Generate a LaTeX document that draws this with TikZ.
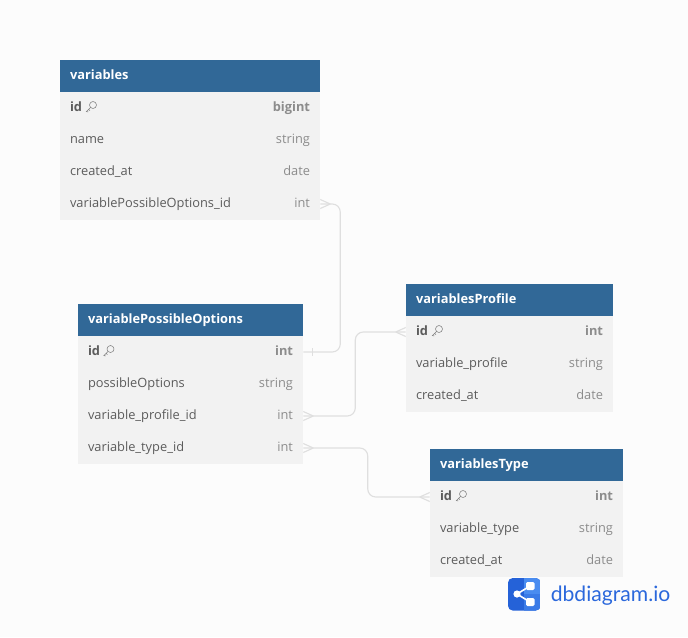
\documentclass[tikz,border=0pt]{standalone}
\usepackage{fontspec}
\setmainfont{Open Sans}
\newfontfamily\logofont{Lato}
\definecolor{pagegray}{HTML}{FCFCFC}
\definecolor{headblue}{HTML}{316897}
\definecolor{rowgray}{HTML}{F2F2F2}
\definecolor{fieldgray}{HTML}{5C5C5C}
\definecolor{typegray}{HTML}{8C8C8C}
\definecolor{linegray}{HTML}{DFDFDF}
\definecolor{logodark}{HTML}{2562D8}
\definecolor{logolight}{HTML}{4A8CF0}
\newcommand{\dtype}[1]{\hfill\textcolor{typegray}{#1}}
\tikzset{
 tablehead/.style={fill=headblue,text=white,inner xsep=7.5pt,inner ysep=0pt,minimum height=24pt,text width=#1,
  text height=8pt,text depth=2.4pt,font=\fontsize{9.62}{12}\selectfont\bfseries},
 tablerow/.style={fill=rowgray,text=fieldgray,inner xsep=7.5pt,inner ysep=0pt,minimum height=24pt,text width=#1,
  text height=8pt,text depth=2.4pt,font=\fontsize{9.62}{12}\selectfont},
 relline/.style={draw=linegray,line width=0.85pt},
 crowfoot/.pic={\draw[relline] (10,0) -- (0,-4.5) (10,0) -- (0,4.5);},
 keyicon/.pic={\draw[fieldgray!80,line width=0.4pt] (2,-2) circle (3.5)
  (-0.4,0.4) -- (-4.6,4.6) -- (-2.8,5) (-2.4,2.4) -- (-1,3.6);}
}
\begin{document}
\begin{tikzpicture}[x=0.75pt,y=-0.75pt]
\fill[pagegray] (0,0) rectangle (688,637);

% variables
\node[tablehead=180pt] (V) at (190,76) {variables};
\node[tablerow=180pt] (v1) at (190,108) {\textbf{id}\dtype{\textbf{bigint}}};
\node[tablerow=180pt] (v2) at (190,140) {name\dtype{string}};
\node[tablerow=180pt] (v3) at (190,172) {created\_at\dtype{date}};
\node[tablerow=180pt] (v4) at (190,204) {variablePossibleOptions\_id\dtype{int}};
\pic at (91,107) {keyicon};

% variablePossibleOptions
\node[tablehead=153.75pt] (O) at (190.5,320) {variablePossibleOptions};
\node[tablerow=153.75pt] (o1) at (190.5,352) {\textbf{id}\dtype{\textbf{int}}};
\node[tablerow=153.75pt] (o2) at (190.5,384) {possibleOptions\dtype{string}};
\node[tablerow=153.75pt] (o3) at (190.5,416) {variable\_profile\_id\dtype{int}};
\node[tablerow=153.75pt] (o4) at (190.5,448) {variable\_type\_id\dtype{int}};
\pic at (108.5,351) {keyicon};

% variablesProfile
\node[tablehead=140.25pt] (P) at (509.5,300) {variablesProfile};
\node[tablerow=140.25pt] (p1) at (509.5,332) {\textbf{id}\dtype{\textbf{int}}};
\node[tablerow=140.25pt] (p2) at (509.5,364) {variable\_profile\dtype{string}};
\node[tablerow=140.25pt] (p3) at (509.5,396) {created\_at\dtype{date}};
\pic at (437,331) {keyicon};

% variablesType
\node[tablehead=129.75pt] (T) at (526.5,465) {variablesType};
\node[tablerow=129.75pt] (t1) at (526.5,497) {\textbf{id}\dtype{\textbf{int}}};
\node[tablerow=129.75pt] (t2) at (526.5,529) {variable\_type\dtype{string}};
\node[tablerow=129.75pt] (t3) at (526.5,561) {created\_at\dtype{date}};
\pic at (461,496) {keyicon};

% relations
\draw[relline,rounded corners=6pt] (v4.east) -- ++(20,0) |- (o1.east);
\draw[relline,rounded corners=6pt] (o3.east) -- ++(52,0) |- (p1.west);
\draw[relline,rounded corners=6pt] (o4.east) -- ++(64.5,0) |- (t1.west);
\draw[relline] (312.5,348) -- (312.5,356);
\pic at (v4.east) {crowfoot};
\pic at (o3.east) {crowfoot};
\pic at (o4.east) {crowfoot};
\pic[xscale=-1] at (p1.west) {crowfoot};
\pic[xscale=-1] at (t1.west) {crowfoot};

% logo
\begin{scope}
\clip[rounded corners=3.5pt] (508,578) rectangle (540.5,610.5);
\fill[logodark] (508,578) rectangle (540.5,610.5);
\fill[logolight] (524,578) rectangle (540.5,594);
\fill[logolight!60!logodark] (524,594) rectangle (540.5,610.5);
\end{scope}
\draw[white,line width=1.2pt] (517,594) -- (530,586) (517,594) -- (530,602);
\fill[white] (517,594) circle (3.6);
\fill[white,rounded corners=1pt] (526,582) rectangle (534.5,590);
\fill[white,rounded corners=1pt] (526,598) rectangle (534.5,606);
\node[anchor=base west,inner sep=0pt,text=logodark!85!logolight,font=\logofont\fontsize{15.85}{20}\selectfont] (logotext) at (550.5,601) {dbdiagram.io};
\end{tikzpicture}
\end{document}
